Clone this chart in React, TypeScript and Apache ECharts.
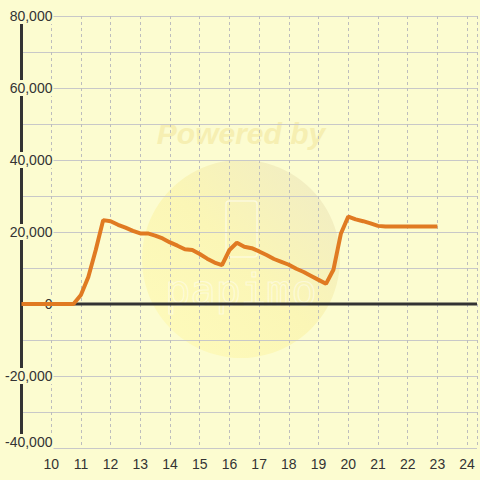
import React, { useEffect, useRef } from "react";
import * as echarts from "echarts";

const hours = [9, 9.5, 10, 10.5, 10.75, 11, 11.25, 11.5, 11.75, 12, 12.25, 12.5, 12.75, 13, 13.25, 13.5, 13.75, 14, 14.25, 14.5, 14.75, 15, 15.25, 15.5, 15.75, 16, 16.25, 16.5, 16.75, 17, 17.25, 17.5, 17.75, 18, 18.25, 18.5, 18.75, 19, 19.25, 19.5, 19.75, 20, 20.25, 20.5, 20.75, 21, 21.25, 21.5, 22, 22.5, 23];
const values = [0, 0, 0, 0, 0, 2500, 7500, 15000, 23300, 23000, 22000, 21200, 20300, 19600, 19600, 19000, 18200, 17100, 16200, 15200, 15000, 13900, 12600, 11500, 10800, 15000, 17000, 15900, 15500, 14600, 13600, 12500, 11700, 10900, 9800, 8900, 7800, 6700, 5600, 9500, 19500, 24300, 23500, 23000, 22400, 21700, 21500, 21500, 21500, 21500, 21500];
const yTickLabels = [-40000, -20000, 0, 20000, 40000, 60000, 80000];
const yMin = -40000;
const yMax = 80000;
const xMin = 9;
const xMax = 24.3334;
const zeroLine = [[xMin, 0], [xMax, 0]];

const BG = "#fcfcd0";

export default function App() {
  const ref = useRef<HTMLDivElement>(null);
  useEffect(() => {
    if (!ref.current) return;
    const chart = echarts.init(ref.current, null, { renderer: "svg" });
    const data = hours.map((h, i) => [h, values[i]]);
    chart.setOption({
      animation: false,
      backgroundColor: BG,
      grid: { left: 20, right: 0, top: 16, bottom: 32, containLabel: false },
      graphic: [
        {
          type: "circle",
          z: -10,
          silent: true,
          shape: { cx: 241, cy: 259, r: 99 },
          style: {
            fill: new echarts.graphic.LinearGradient(0, 1, 1, 0, [
              { offset: 0, color: "#fefbbc" },
              { offset: 0.5, color: "#fbf6b6" },
              { offset: 1, color: "#efebc6" },
            ]),
          },
        },
        {
          type: "text",
          z: -9,
          silent: true,
          x: 241,
          y: 133,
          style: {
            text: "Powered by",
            fill: "#f6efb2",
            font: "italic bold 30px 'Liberation Sans', Arial, sans-serif",
            align: "center",
            verticalAlign: "middle",
          },
        },
        {
          type: "rect",
          z: -9,
          silent: true,
          shape: { x: 226, y: 201, width: 31, height: 56, r: 3 },
          style: { fill: "none", stroke: "rgba(255,255,255,0.5)", lineWidth: 1.5 },
        },
        {
          type: "text",
          z: -9,
          silent: true,
          x: 241,
          y: 290,
          style: {
            text: "papimo",
            fill: "none",
            stroke: "rgba(255,255,255,0.45)",
            lineWidth: 1.2,
            font: "42px 'DejaVu Sans Mono', monospace",
            align: "center",
            verticalAlign: "middle",
          },
        },
      ],
      xAxis: {
        type: "value",
        min: xMin,
        max: xMax,
        interval: 1,
        axisLine: { show: false, onZero: false },
        axisTick: { show: false },
        axisLabel: {
          color: "#333",
          fontSize: 14,
          fontFamily: "'Liberation Sans', Arial, sans-serif",
          margin: 9,
          formatter: (v: number) => (Number.isInteger(v) && v >= 10 ? String(v) : ""),
        },
        splitLine: {
          show: true,
          lineStyle: { color: "#bdbdbd", type: [3, 3], width: 1 },
        },
      },
      yAxis: {
        type: "value",
        min: yMin,
        max: yMax,
        interval: 10000,
        axisLine: { show: true, onZero: false, lineStyle: { color: "#333", width: 3 } },
        axisTick: { show: false },
        splitLine: { show: true, lineStyle: { color: "#c8c8c8", width: 1 } },
        axisLabel: {
          margin: -32,
          align: "right",
          formatter: (v: number) => {
            if (!yTickLabels.includes(v)) return "";
            const t = "{a|" + v.toLocaleString("en-US") + "}";
            return v === yMin ? t + "\n{s| }" : t;
          },
          rich: {
            a: {
              color: "#333",
              fontSize: 14,
              fontFamily: "'Liberation Sans', Arial, sans-serif",
              backgroundColor: BG,
              padding: [1, 1, 1, 2],
            },
            s: { fontSize: 1, height: 12 },
          },
        },
      },
      series: [
        {
          type: "line",
          data: zeroLine,
          showSymbol: false,
          symbol: "none",
          silent: true,
          lineStyle: { color: "#333", width: 3 },
          z: 1,
        },
        {
          type: "line",
          data,
          showSymbol: false,
          symbol: "none",
          lineStyle: { color: "#e07a22", width: 4 },
          z: 5,
        },
      ],
    });
    return () => chart.dispose();
  }, []);
  return <div ref={ref} style={{ width: 480, height: 480, position: "absolute", left: 0, top: 0 }} />;
}
